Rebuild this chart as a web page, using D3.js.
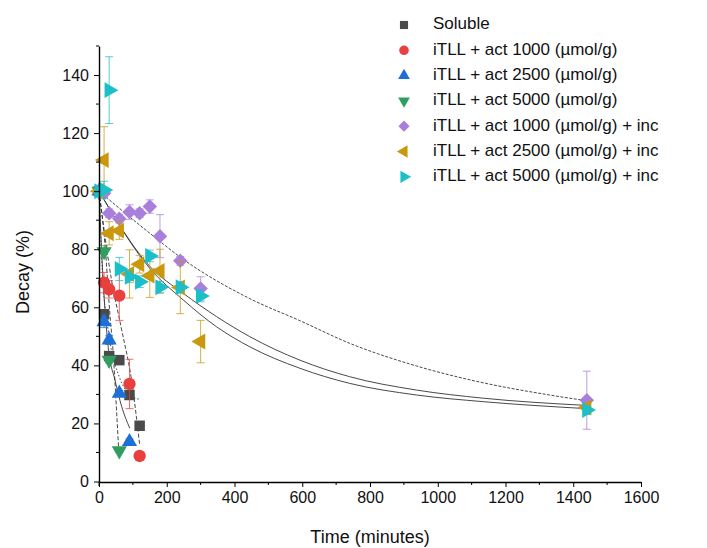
<!DOCTYPE html>
<html>
<head>
<meta charset="utf-8">
<script src="https://cdn.jsdelivr.net/npm/d3@7"></script>
<style>
body { margin: 0; background: #fff; }
svg text { font-family: "Liberation Sans", Arial, sans-serif; fill: #111; }
</style>
</head>
<body>
<script>
// series
const names = ["Soluble", "iTLL + act 1000 (\u00b5mol/g)", "iTLL + act 2500 (\u00b5mol/g)",
  "iTLL + act 5000 (\u00b5mol/g)", "iTLL + act 1000 (\u00b5mol/g) + inc",
  "iTLL + act 2500 (\u00b5mol/g) + inc", "iTLL + act 5000 (\u00b5mol/g) + inc"];
const colors = ["#4a4a4a", "#e8403f", "#1f6fd8", "#2f9e5e", "#a97fdc", "#c9980f", "#1cbfc8"];

const solT = [0, 15, 30, 60, 90, 120];
const solV = [100, 57.6, 43.2, 41.8, 29.8, 19.2];
const solE = [0, 1.5, 1.5, 1, 1, 1];

const a1000T = [0, 15, 30, 60, 90, 120];
const a1000V = [100, 68.5, 66.2, 64.0, 33.6, 8.8];
const a1000E = [0, 3.5, 3, 8.5, 8.5, 0.5];

const a2500T = [0, 15, 30, 60, 90];
const a2500V = [100, 55.0, 48.7, 30.4, 13.7];
const a2500E = [0, 2, 1.5, 1, 1];

const a5000T = [0, 15, 30, 60];
const a5000V = [100, 79.2, 41.8, 10.6];
const a5000E = [0, 2, 1, 0.5];

const i1000T = [0, 15, 30, 60, 90, 120, 150, 180, 240, 300, 1440];
const i1000V = [100, 99.3, 92.4, 90.5, 92.8, 92.4, 94.7, 84.5, 76.0, 66.5, 28.0];
const i1000E = [0, 1.5, 1.5, 1.5, 2.5, 1.5, 2.3, 7.4, 1.5, 4, 10];

const i2500T = [0, 15, 30, 60, 90, 120, 150, 180, 240, 300, 1440];
const i2500V = [100, 110.7, 85.5, 86.4, 71.5, 74.8, 70.9, 72.5, 66.8, 48.2, 25.5];
const i2500E = [0, 11.5, 4, 3, 8.3, 3, 7.5, 7.5, 9, 7.3, 1.5];

const i5000T = [0, 15, 30, 60, 90, 120, 150, 180, 240, 300, 1440];
const i5000V = [100, 100.4, 134.8, 73.2, 70.5, 68.8, 77.7, 66.9, 66.9, 63.9, 24.6];
const i5000E = [0, 3, 11.5, 4, 2, 2, 2, 2, 2, 2, 1.5];

// fitted curves
const fitInc1000 = [[0, 100], [150, 85.5], [249, 76.5], [445, 63.0], [593, 55.4], [740, 47.6], [937, 39.8], [1134, 34.0], [1330, 29.8], [1440, 27.8]];
const fitInc2500 = [[0, 100], [150, 74.1], [249, 64.8], [347, 56.8], [445, 49.9], [593, 41.8], [740, 36.1], [937, 31.5], [1134, 28.7], [1440, 26.2]];
const fitInc5000 = [[0, 100], [150, 73.4], [249, 62.5], [347, 53.3], [445, 46.4], [593, 39.0], [740, 33.8], [937, 29.8], [1134, 27.5], [1440, 25.1]];
const fitA5000 = [[0, 100], [18, 81], [32, 58], [42, 44], [52, 24], [58, 11]];
const fitA1000 = [[0, 100], [37, 69.4], [67, 52.2], [96, 35], [120, 12.6]];
const fitA2500 = [[0, 100], [10, 74], [27, 46.4], [47, 35], [67, 25.8], [91, 18.3]];
const fitSol = [[0, 100], [10, 72], [30, 50], [60, 36], [90, 30], [120, 28.3]];

const xTicks = [0, 200, 400, 600, 800, 1000, 1200, 1400, 1600];
const yTicks = [0, 20, 40, 60, 80, 100, 120, 140];

const series = [
  { t: solT, v: solV, e: solE, sym: d3.symbolSquare, size: 110, rot: 0 },
  { t: a1000T, v: a1000V, e: a1000E, sym: d3.symbolCircle, size: 120, rot: 0 },
  { t: a2500T, v: a2500V, e: a2500E, sym: d3.symbolTriangle, size: 100, rot: 0 },
  { t: a5000T, v: a5000V, e: a5000E, sym: d3.symbolTriangle, size: 100, rot: 180 },
  { t: i1000T, v: i1000V, e: i1000E, sym: d3.symbolSquare, size: 105, rot: 45 },
  { t: i2500T, v: i2500V, e: i2500E, sym: d3.symbolTriangle, size: 110, rot: -90 },
  { t: i5000T, v: i5000V, e: i5000E, sym: d3.symbolTriangle, size: 110, rot: 90 }
];

const W = 707, H = 548;
const svg = d3.select("body").append("svg").attr("width", W).attr("height", H);

const x = d3.scaleLinear().domain([0, 1600]).range([99, 641]);
const y = d3.scaleLinear().domain([0, 150]).range([481.5, 46]);

// fit lines
const line = d3.line().x(d => x(d[0])).y(d => y(d[1])).curve(d3.curveMonotoneX);
const fits = [
  { d: fitInc1000, dash: "3,1.5" },
  { d: fitInc2500, dash: null },
  { d: fitInc5000, dash: null },
  { d: fitA5000, dash: "4,2" },
  { d: fitA1000, dash: "4,2" },
  { d: fitA2500, dash: null },
  { d: fitSol, dash: "1.5,2" }
];
svg.append("g").selectAll("path").data(fits).enter().append("path")
  .attr("d", f => line(f.d))
  .attr("fill", "none")
  .attr("stroke", "#333")
  .attr("stroke-width", 0.9)
  .attr("stroke-dasharray", f => f.dash);

// error bars + markers
series.forEach((s, i) => {
  const g = svg.append("g");
  const pts = s.t.map((t, j) => ({ t: t, v: s.v[j], e: s.e[j] }));
  const eb = pts.filter(p => p.e > 0);
  g.selectAll("line.bar").data(eb).enter().append("line")
    .attr("x1", p => x(p.t)).attr("x2", p => x(p.t))
    .attr("y1", p => y(p.v + p.e)).attr("y2", p => y(p.v - p.e))
    .attr("stroke", colors[i]).attr("stroke-width", 1).attr("opacity", 0.75);
  [1, -1].forEach(sg => {
    g.selectAll("line.cap" + sg).data(eb).enter().append("line")
      .attr("x1", p => x(p.t) - 4).attr("x2", p => x(p.t) + 4)
      .attr("y1", p => y(p.v + sg * p.e)).attr("y2", p => y(p.v + sg * p.e))
      .attr("stroke", colors[i]).attr("stroke-width", 1).attr("opacity", 0.75);
  });
  g.selectAll("path").data(pts).enter().append("path")
    .attr("d", d3.symbol().type(s.sym).size(s.size))
    .attr("transform", p => "translate(" + x(p.t) + "," + y(p.v) + ") rotate(" + s.rot + ")")
    .attr("fill", colors[i]);
});

// axes
const xAxis = d3.axisBottom(x).tickValues(xTicks).tickFormat(d3.format("d"))
  .tickSize(5).tickPadding(5).tickSizeOuter(0);
const gx = svg.append("g").attr("transform", "translate(0,482)").call(xAxis);
gx.selectAll(".tick text").attr("font-size", 16).attr("fill", "#111");
gx.append("g").selectAll("line").data(d3.range(100, 1600, 200)).enter().append("line")
  .attr("x1", d => x(d)).attr("x2", d => x(d)).attr("y1", 0).attr("y2", 3).attr("stroke", "#000");

const yAxis = d3.axisLeft(y).tickValues(yTicks).tickSize(5).tickPadding(5).tickSizeOuter(0);
const gy = svg.append("g").attr("transform", "translate(99,0)").call(yAxis);
gy.selectAll(".tick text").attr("font-size", 16).attr("fill", "#111");
gy.append("g").selectAll("line").data(d3.range(10, 151, 20)).enter().append("line")
  .attr("x1", -3).attr("x2", 0).attr("y1", d => y(d)).attr("y2", d => y(d)).attr("stroke", "#000");
gy.append("line").attr("x1", 0).attr("x2", 0).attr("y1", 482).attr("y2", 486).attr("stroke", "#000");
svg.selectAll(".domain").attr("stroke", "#000").attr("stroke-width", 1.4);

svg.append("text").attr("x", 370).attr("y", 538).attr("text-anchor", "middle")
  .attr("dominant-baseline", "middle").attr("font-size", 18).text("Time (minutes)");
svg.append("text").attr("transform", "translate(24,272) rotate(-90)").attr("text-anchor", "middle")
  .attr("dominant-baseline", "middle").attr("font-size", 18).text("Decay (%)");

// legend
const leg = svg.append("g");
series.forEach((s, i) => {
  const ly = 25 + i * 25.3;
  leg.append("path")
    .attr("d", d3.symbol().type(s.sym).size(s.size * 0.6))
    .attr("transform", "translate(404," + ly + ") rotate(" + s.rot + ")")
    .attr("fill", colors[i]);
  leg.append("text").attr("x", 433).attr("y", ly).attr("dominant-baseline", "middle")
    .attr("font-size", 17).text(names[i]);
});
</script>
</body>
</html>
